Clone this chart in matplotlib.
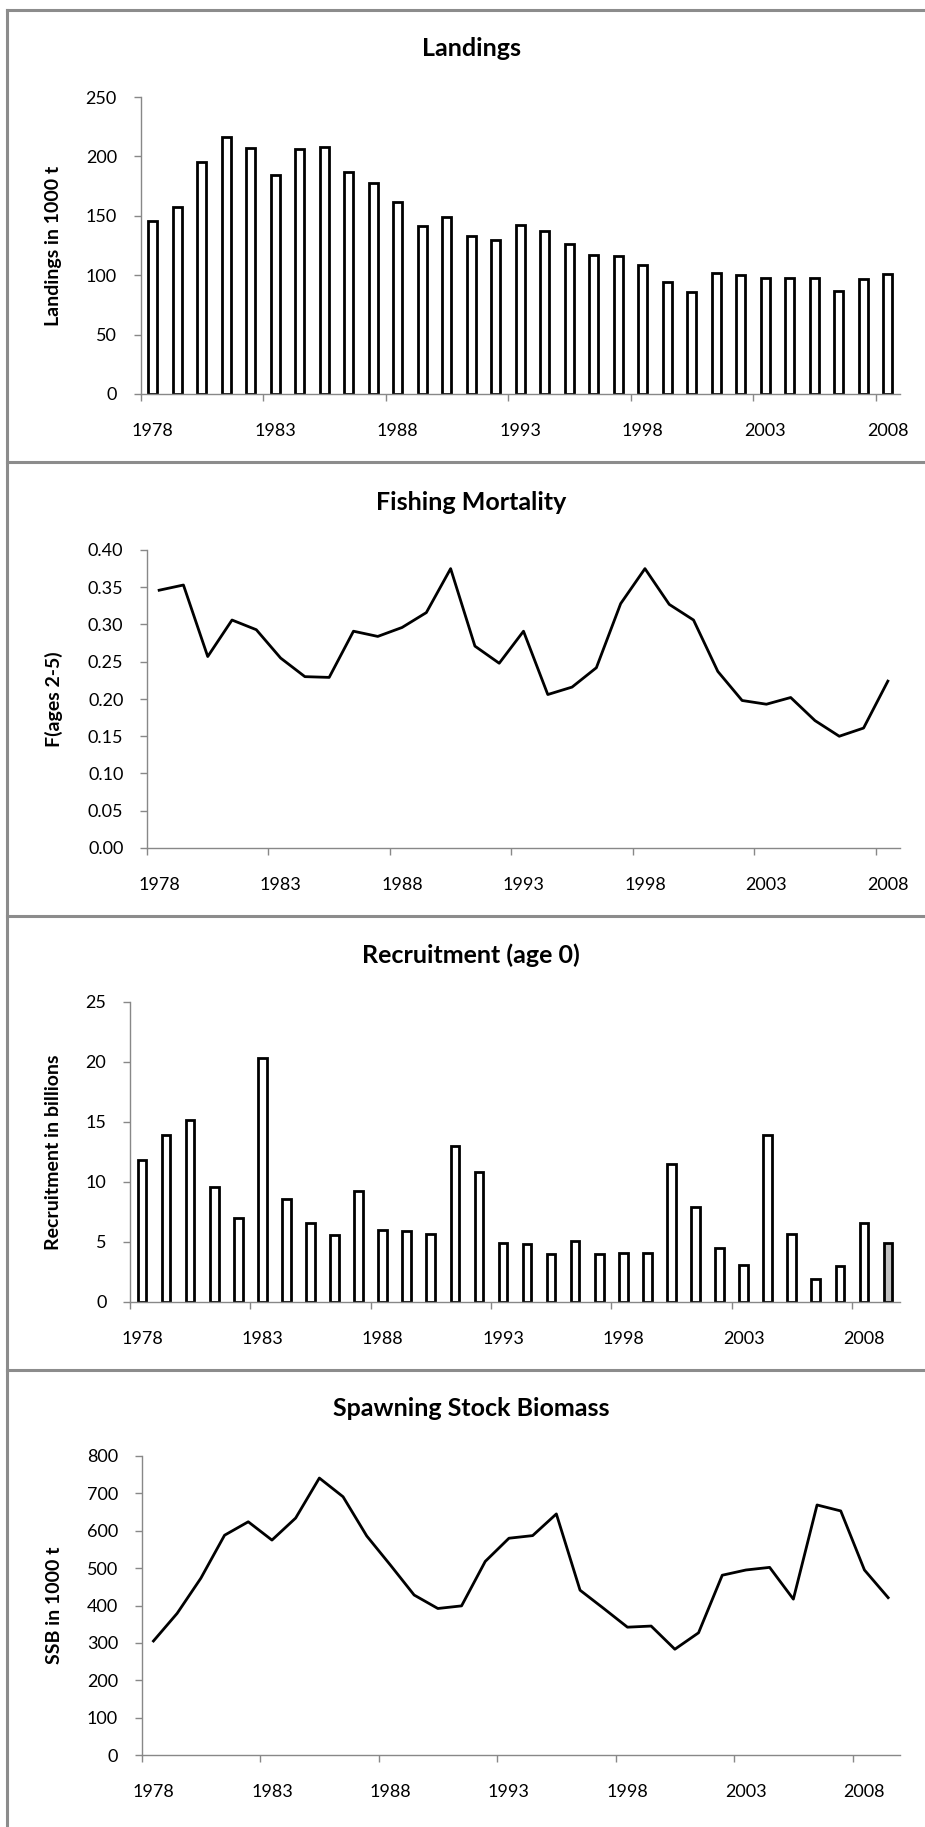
import matplotlib
matplotlib.use('Agg')
import matplotlib.pyplot as plt
from matplotlib.lines import Line2D
from matplotlib.ticker import FormatStrFormatter
import numpy as np

plt.rcParams['font.family'] = ['Lato', 'DejaVu Sans']

# data
years_landings = list(range(1978, 2009))
landings = [146, 157, 195, 216, 207, 184, 206, 208, 187, 178, 162, 141, 149, 133, 130,
            142, 137, 126, 117, 116, 109, 94, 86, 102, 100, 98, 98, 98, 87, 97, 101]

years_f = list(range(1978, 2009))
fishing_mortality = [0.346, 0.353, 0.257, 0.306, 0.293, 0.255, 0.230, 0.229, 0.291, 0.284,
                     0.296, 0.316, 0.375, 0.271, 0.248, 0.291, 0.206, 0.216, 0.242, 0.328,
                     0.375, 0.327, 0.306, 0.237, 0.198, 0.193, 0.202, 0.171, 0.150, 0.161, 0.224]

years_recruit = list(range(1978, 2010))
recruitment = [11.8, 13.9, 15.2, 9.6, 7.0, 20.3, 8.6, 6.6, 5.6, 9.25, 6.0, 5.9, 5.7, 13.0,
               10.8, 4.9, 4.8, 4.0, 5.1, 4.0, 4.1, 4.1, 11.5, 7.9, 4.5, 3.1, 13.9, 5.7,
               1.9, 3.0, 6.6, 4.9]

years_ssb = list(range(1978, 2010))
ssb = [305, 379, 473, 588, 624, 575, 634, 741, 691, 586, 508, 428, 392, 399, 518, 580,
       587, 645, 441, 392, 342, 345, 283, 327, 481, 495, 502, 417, 669, 653, 495, 421]

W, H = 925, 1827
fig = plt.figure(figsize=(W / 100, H / 100), dpi=100)

axis_gray = '#888888'
frame_gray = '#8c8c8c'


def rect(left, top, right, bottom):
    return [left / W, 1 - bottom / H, (right - left) / W, (bottom - top) / H]


def style_axes(ax, years, ymax, ystep, yfmt):
    n = len(years)
    ax.set_xlim(-0.5, n - 0.5)
    ax.set_ylim(0, ymax)
    ax.set_yticks(np.arange(0, ymax + ystep / 2, ystep))
    ax.yaxis.set_major_formatter(FormatStrFormatter(yfmt))
    for s in ['top', 'right']:
        ax.spines[s].set_visible(False)
    for s in ['left', 'bottom']:
        ax.spines[s].set_color(axis_gray)
        ax.spines[s].set_linewidth(1.0)
    ax.tick_params(axis='y', direction='out', length=5, width=1, color=axis_gray,
                   pad=12, labelsize=13)
    # tick marks between categories, labels centred on every 5th category
    ax.set_xticks(np.arange(-0.5, n - 0.5, 5))
    ax.set_xticklabels([])
    pos = np.arange(0, n, 5)
    ax.set_xticks(pos, minor=True)
    ax.set_xticklabels([str(years[i]) for i in pos], minor=True)
    ax.tick_params(axis='x', which='major', direction='out', length=5, width=1,
                   color=axis_gray)
    ax.tick_params(axis='x', which='minor', length=0, pad=21, labelsize=13)


def panel_text(title, ylabel, title_y, top, bottom):
    fig.text(471 / W, 1 - title_y / H, title, ha='center', va='center',
             fontsize=18, fontweight='bold')
    fig.text(54 / W, 1 - (top + bottom) / 2 / H, ylabel, ha='center', va='center',
             rotation=90, fontsize=14, fontweight='bold')


# Landings
ax1 = fig.add_axes(rect(140.5, 97, 900, 394))
ax1.bar(np.arange(len(landings)), landings, width=0.36, color='white',
        edgecolor='black', linewidth=2)
style_axes(ax1, years_landings, 250, 50, '%d')
panel_text('Landings', 'Landings in 1000 t', 48, 97, 394)

# Fishing mortality
ax2 = fig.add_axes(rect(147, 550, 900, 848))
ax2.plot(np.arange(len(fishing_mortality)), fishing_mortality, color='black', lw=2)
style_axes(ax2, years_f, 0.40, 0.05, '%.2f')
panel_text('Fishing Mortality', 'F(ages 2-5)', 502, 550, 848)

# Recruitment, last year shaded grey
ax3 = fig.add_axes(rect(130, 1002, 900, 1302))
rec_colors = ['white'] * (len(recruitment) - 1) + ['#c0c0c0']
ax3.bar(np.arange(len(recruitment)), recruitment, width=0.36, color=rec_colors,
        edgecolor='black', linewidth=2)
style_axes(ax3, years_recruit, 25, 5, '%d')
panel_text('Recruitment (age 0)', 'Recruitment in billions', 955, 1002, 1302)

# SSB
ax4 = fig.add_axes(rect(141.6, 1456, 900, 1755))
ax4.plot(np.arange(len(ssb)), ssb, color='black', lw=2)
style_axes(ax4, years_ssb, 800, 100, '%d')
panel_text('Spawning Stock Biomass', 'SSB in 1000 t', 1409, 1456, 1755)

# frame and separators between the four charts
for y in [10, 462, 916, 1370]:
    fig.add_artist(Line2D([7 / W, 1], [1 - y / H, 1 - y / H], transform=fig.transFigure,
                          color=frame_gray, lw=2.2))
fig.add_artist(Line2D([7 / W, 7 / W], [1 - 10 / H, 0], transform=fig.transFigure,
                      color=frame_gray, lw=2.2))

fig.savefig('out.png', dpi=100)
